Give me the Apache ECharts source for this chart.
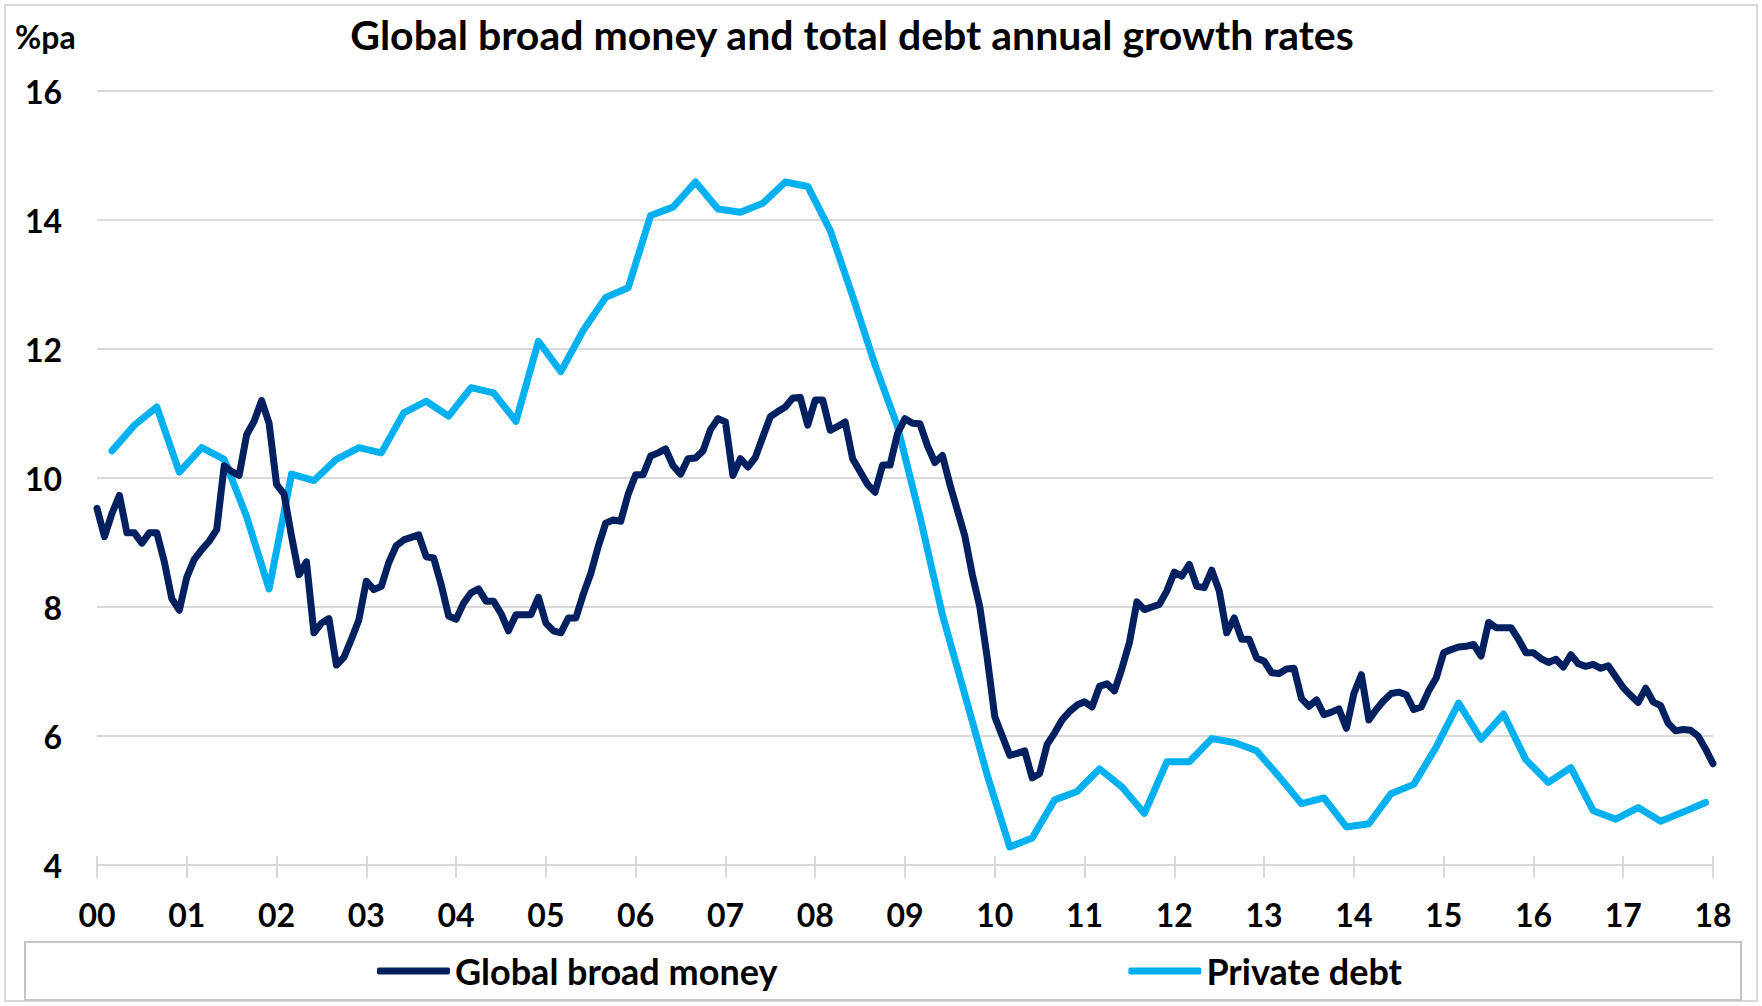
<!DOCTYPE html>
<html>
<head>
<meta charset="utf-8">
<script src="https://cdn.jsdelivr.net/npm/echarts@6/dist/echarts.min.js"></script>
<style>
  html, body { margin: 0; padding: 0; background: #ffffff; }
  #chart { width: 1762px; height: 1006px; }
</style>
</head>
<body>
<div id="chart"></div>
<script>
// Year tick labels on the horizontal axis
const yearLabels = ['00', '01', '02', '03', '04', '05', '06', '07', '08', '09',
                    '10', '11', '12', '13', '14', '15', '16', '17', '18'];

// Global broad money, % per annum, monthly from Jan 2000 to Jan 2018 (one row per year)
const broadMoney = [
  9.53, 9.09, 9.45, 9.73, 9.15, 9.15, 8.99, 9.15, 9.15, 8.70, 8.13, 7.95,
  8.46, 8.74, 8.89, 9.02, 9.20, 10.19, 10.10, 10.04, 10.67, 10.88, 11.20, 10.85,
  9.90, 9.75, 9.10, 8.50, 8.70, 7.60, 7.75, 7.82, 7.10, 7.22, 7.50, 7.80,
  8.40, 8.27, 8.32, 8.69, 8.95, 9.04, 9.08, 9.12, 8.78, 8.76, 8.35, 7.86,
  7.81, 8.06, 8.22, 8.28, 8.09, 8.09, 7.90, 7.63, 7.88, 7.88, 7.88, 8.15,
  7.75, 7.63, 7.60, 7.83, 7.83, 8.20, 8.52, 8.94, 9.30, 9.35, 9.33, 9.75,
  10.05, 10.05, 10.34, 10.39, 10.45, 10.19, 10.06, 10.30, 10.31, 10.42, 10.75, 10.92,
  10.87, 10.04, 10.30, 10.17, 10.32, 10.64, 10.95, 11.03, 11.10, 11.24, 11.25, 10.82,
  11.21, 11.21, 10.74, 10.80, 10.87, 10.30, 10.10, 9.90, 9.78, 10.20, 10.20, 10.69,
  10.92, 10.85, 10.84, 10.50, 10.24, 10.35, 9.90, 9.50, 9.10, 8.50, 8.00, 7.20,
  6.30, 6.00, 5.70, 5.73, 5.77, 5.35, 5.42, 5.87, 6.05, 6.25, 6.38, 6.48,
  6.53, 6.45, 6.77, 6.81, 6.70, 7.05, 7.45, 8.08, 7.96, 8.00, 8.04, 8.25,
  8.54, 8.48, 8.66, 8.32, 8.30, 8.57, 8.25, 7.60, 7.83, 7.50, 7.50, 7.21,
  7.16, 6.98, 6.97, 7.04, 7.05, 6.58, 6.46, 6.56, 6.33, 6.37, 6.42, 6.12,
  6.66, 6.95, 6.25, 6.41, 6.55, 6.66, 6.68, 6.64, 6.41, 6.45, 6.70, 6.90,
  7.29, 7.34, 7.38, 7.39, 7.42, 7.24, 7.76, 7.68, 7.68, 7.68, 7.50, 7.29,
  7.29, 7.20, 7.14, 7.19, 7.07, 7.26, 7.12, 7.08, 7.11, 7.05, 7.09, 6.92,
  6.75, 6.63, 6.52, 6.74, 6.53, 6.47, 6.20, 6.08, 6.10, 6.09, 6.00, 5.80,
  5.57
];

// Private debt, % per annum, quarterly (Mar, Jun, Sep, Dec) from 2000 to 2017
const privateDebt = [
  10.42, 10.82, 11.10, 10.09,
  10.47, 10.29, 9.40, 8.28,
  10.06, 9.96, 10.29, 10.47,
  10.39, 11.01, 11.19, 10.96,
  11.40, 11.32, 10.88, 12.12,
  11.65, 12.29, 12.80, 12.95,
  14.07, 14.20, 14.59, 14.17,
  14.12, 14.26, 14.59, 14.52,
  13.84, 12.82, 11.75, 10.80,
  9.40, 7.88, 6.64, 5.39,
  4.28, 4.42, 5.01, 5.14,
  5.49, 5.21, 4.80, 5.60,
  5.60, 5.96, 5.90, 5.77,
  5.37, 4.95, 5.04, 4.59,
  4.64, 5.11, 5.25, 5.83,
  6.51, 5.95, 6.34, 5.63,
  5.28, 5.51, 4.84, 4.71,
  4.89, 4.68, 4.82, 4.97
];

const seriesNames = ['Global broad money', 'Private debt'];
const firstYear = 2000;

// Monthly categories: 2000-01 ... 2018-01
const months = broadMoney.map((_, i) =>
  (firstYear + Math.floor(i / 12)) + '-' + String(i % 12 + 1).padStart(2, '0'));

// Quarterly readings sit on the quarter-end month (Mar, Jun, Sep, Dec)
const privateDebtPoints = privateDebt.map((v, q) => [months[2 + 3 * q], v]);

const FONT = 'Lato, "Open Sans", sans-serif';
const NAVY = '#002060';
const SKY = '#00B0F0';
const GRID_GREY = '#d9d9d9';
const isYearStart = (index) => index % 12 === 0;

const chart = echarts.init(document.getElementById('chart'), null, { renderer: 'svg' });

chart.setOption({
  backgroundColor: '#ffffff',
  animation: false,
  textStyle: { fontFamily: FONT, color: '#000000' },
  title: {
    text: 'Global broad money and total debt annual growth rates',
    left: 852,
    top: 14,
    textAlign: 'center',
    padding: 0,
    textStyle: { fontFamily: FONT, fontWeight: 'bold', fontSize: 41, color: '#000000' }
  },
  grid: { left: 97, right: 49, top: 91, bottom: 141, containLabel: false },
  legend: {
    left: 377,
    top: 953,
    padding: 0,
    itemGap: 351,
    itemWidth: 73,
    itemHeight: 7,
    icon: 'roundRect',
    data: seriesNames,
    textStyle: { fontFamily: FONT, fontWeight: 'bold', fontSize: 36, color: '#000000' }
  },
  xAxis: [
    {
      type: 'category',
      data: months,
      boundaryGap: false,
      axisLine: { lineStyle: { color: GRID_GREY, width: 2 } },
      axisTick: { interval: isYearStart, length: 13, lineStyle: { color: GRID_GREY, width: 2 } },
      axisLabel: {
        interval: isYearStart,
        formatter: (value, index) => yearLabels[index / 12],
        margin: 33,
        fontFamily: FONT, fontWeight: 'bold', fontSize: 32, color: '#000000'
      },
      splitLine: { show: false }
    },
    {
      // inner half of the crossing tick marks
      type: 'category',
      data: months,
      boundaryGap: false,
      position: 'bottom',
      axisLine: { show: false },
      axisTick: { inside: true, interval: isYearStart, length: 9, lineStyle: { color: GRID_GREY, width: 2 } },
      axisLabel: { show: false },
      splitLine: { show: false }
    }
  ],
  yAxis: {
    type: 'value',
    min: 4,
    max: 16,
    interval: 2,
    axisLine: { show: false },
    axisTick: { show: false },
    axisLabel: { margin: 35, fontFamily: FONT, fontWeight: 'bold', fontSize: 32, color: '#000000' },
    splitLine: { lineStyle: { color: GRID_GREY, width: 2 } }
  },
  graphic: [
    {
      type: 'rect',
      shape: { x: 5, y: 5, width: 1752, height: 996 },
      style: { fill: 'none', stroke: GRID_GREY, lineWidth: 2 },
      silent: true
    },
    {
      type: 'rect',
      shape: { x: 25, y: 942, width: 1716, height: 58 },
      style: { fill: 'none', stroke: '#c4c4c4', lineWidth: 2 },
      silent: true
    },
    {
      type: 'text',
      left: 15,
      top: 20,
      style: { text: '%pa', fontFamily: FONT, fontWeight: 'bold', fontSize: 32, fill: '#000000' }
    }
  ],
  series: [
    {
      name: seriesNames[0],
      type: 'line',
      data: broadMoney,
      symbol: 'none',
      color: NAVY,
      lineStyle: { color: NAVY, width: 7, cap: 'round', join: 'round' },
      z: 3
    },
    {
      name: seriesNames[1],
      type: 'line',
      data: privateDebtPoints,
      symbol: 'none',
      color: SKY,
      lineStyle: { color: SKY, width: 7, cap: 'round', join: 'round' },
      z: 2
    }
  ]
});
</script>
</body>
</html>
